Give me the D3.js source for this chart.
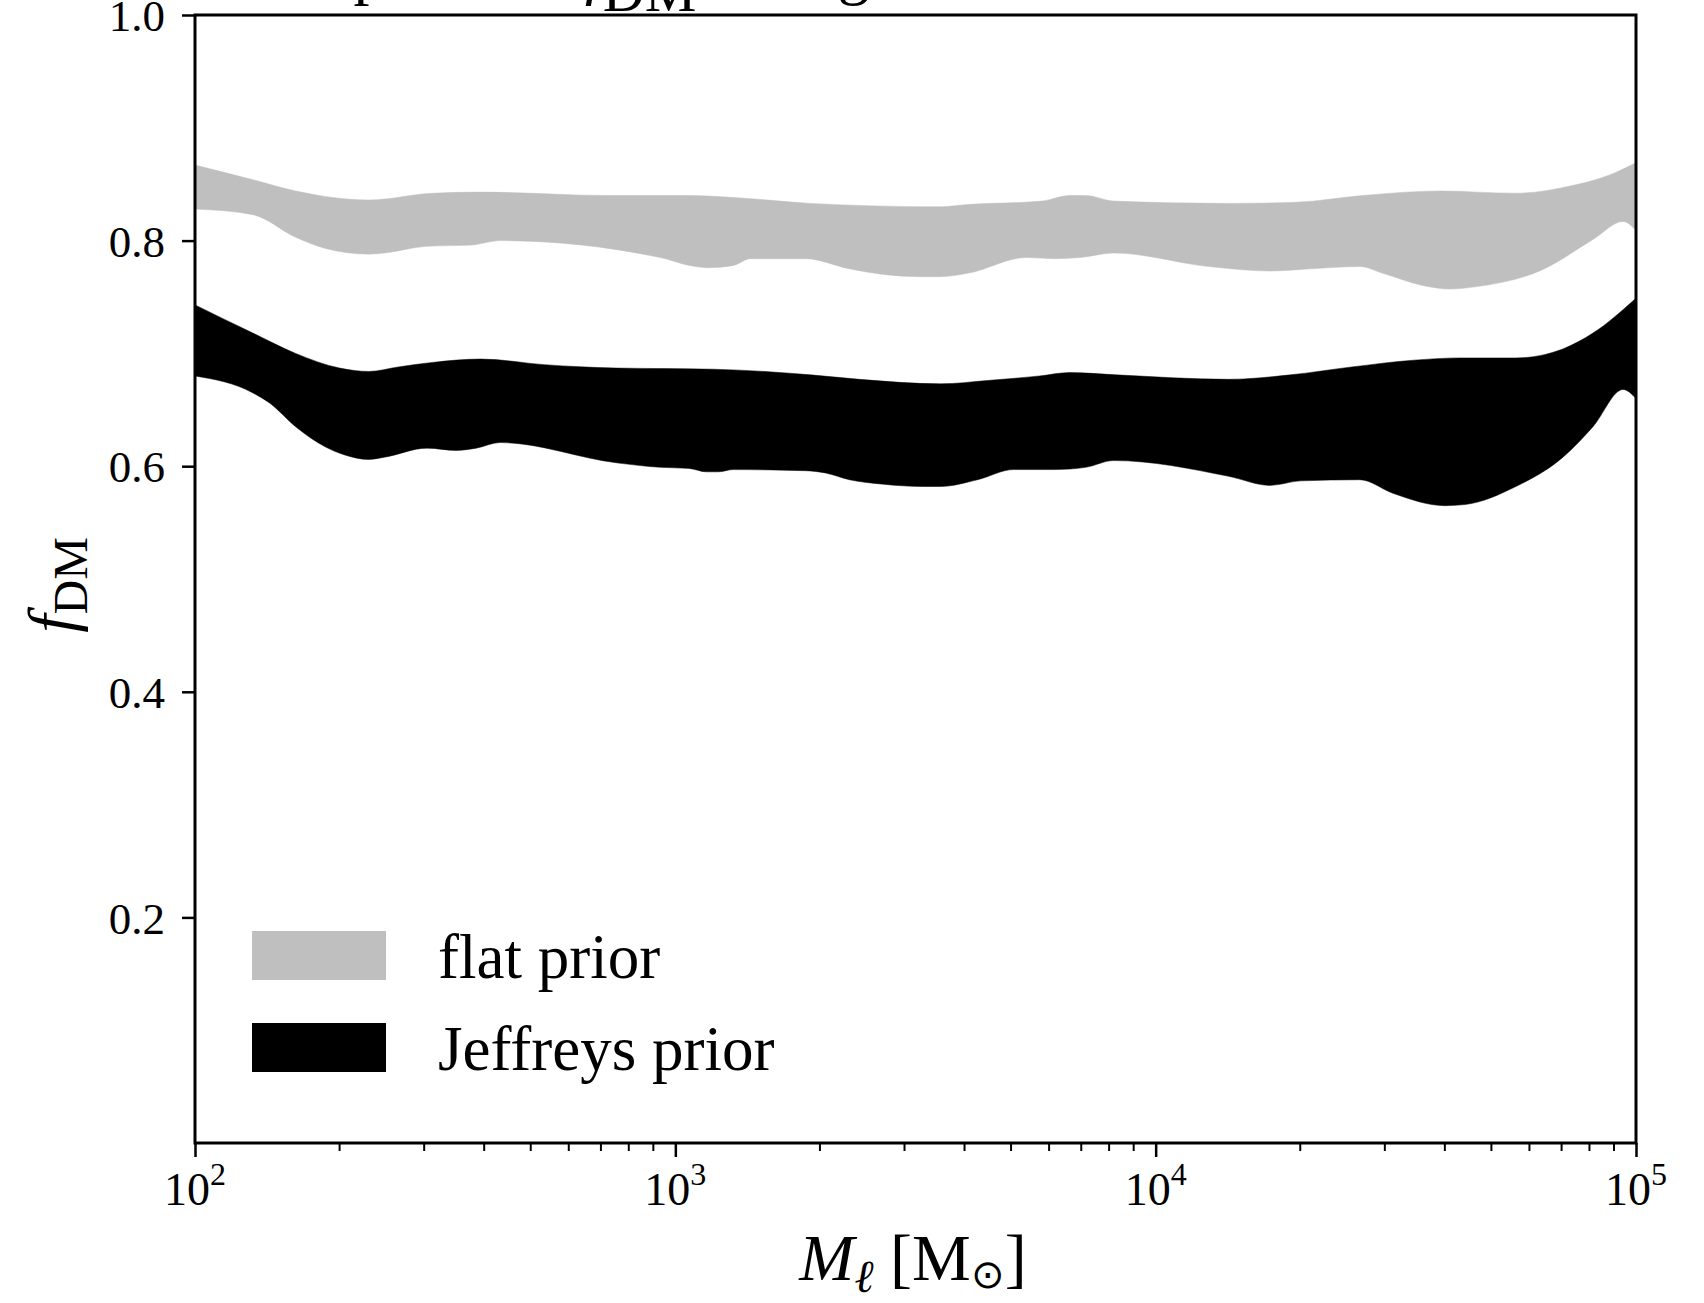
<!DOCTYPE html>
<html>
<head>
<meta charset="utf-8">
<script src="https://cdn.jsdelivr.net/npm/d3@7"></script>
<style>
  html, body { margin: 0; padding: 0; background: #fff; }
  svg { display: block; }
  text { font-family: "Liberation Serif", "Times New Roman", serif; fill: #000; }
</style>
</head>
<body>
<svg id="chart" width="1704" height="1303"></svg>
<script>
// ---- data ----
const flatUpperM = [100,132,162,230,312,394,722,1069,1346,1911,3565,4058,5786,6620,7149,8175,14196,19572,26990,39060,56234,72170,87850,100000];
const flatUpperF = [0.867,0.854,0.844,0.836,0.842,0.843,0.840,0.840,0.838,0.833,0.830,0.832,0.835,0.840,0.840,0.835,0.833,0.834,0.840,0.844,0.842,0.848,0.858,0.869];

const flatLowerM = [100,132,162,187,230,248,304,376,432,930,1069,1172,1321,1433,1866,2304,2713,3270,3565,4058,5385,6160,6980,8175,12894,17283,21032,26607,29720,36160,40980,46200,63710,81360,93950,100000];
const flatLowerF = [0.828,0.823,0.803,0.793,0.788,0.789,0.795,0.796,0.800,0.785,0.778,0.776,0.778,0.784,0.784,0.775,0.770,0.768,0.768,0.771,0.785,0.784,0.785,0.789,0.777,0.773,0.775,0.777,0.771,0.760,0.757,0.759,0.774,0.801,0.817,0.809];

const jeffUpperM = [100,132,162,200,230,265,312,394,534,754,1200,1911,2417,3565,4467,5731,6620,8254,14196,19107,25610,34470,42980,56234,70460,81360,100000];
const jeffUpperF = [0.743,0.718,0.700,0.687,0.684,0.688,0.692,0.695,0.690,0.687,0.686,0.681,0.677,0.673,0.676,0.680,0.683,0.681,0.677,0.681,0.688,0.694,0.696,0.696,0.704,0.718,0.749];

const jeffLowerM = [100,132,143,162,187,205,230,248,304,350,385,432,754,930,1069,1160,1229,1321,1866,2054,2304,2713,3270,3565,4257,5061,6160,7149,8175,14196,17283,20054,26607,31180,40000,44040,56234,70460,81360,93950,100000];
const jeffLowerF = [0.680,0.665,0.656,0.635,0.617,0.610,0.606,0.608,0.616,0.614,0.616,0.621,0.603,0.599,0.598,0.595,0.595,0.597,0.596,0.594,0.588,0.584,0.582,0.582,0.588,0.597,0.597,0.599,0.605,0.591,0.583,0.587,0.588,0.576,0.565,0.566,0.582,0.608,0.635,0.668,0.660];

const seriesNames = ["flat prior", "Jeffreys prior"];
const seriesColors = ["#bfbfbf", "#000000"];
const yTickValues = [0.2, 0.4, 0.6, 0.8, 1.0];
const xMajorTicks = [1e2, 1e3, 1e4, 1e5];
const xTickExps = ["2", "3", "4", "5"];

// ---- layout ----
const svg = d3.select("#chart");
const L = 195, R = 1636, T = 15, B = 1143;
const x = d3.scaleLog().domain([1e2, 1e5]).range([L, R]);
const y = d3.scaleLinear().domain([0, 1]).range([B, T]);

const zip = (m, f) => m.map((v, i) => [v, f[i]]);
const line = d3.line().x(d => x(d[0])).y(d => y(d[1])).curve(d3.curveMonotoneX);
function bandPath(upM, upF, loM, loF) {
  const up = line(zip(upM, upF));
  const lo = line(zip(loM, loF).reverse());
  return up + "L" + lo.slice(1) + "Z";
}

svg.append("defs").append("clipPath").attr("id", "plotclip")
  .append("rect").attr("x", L).attr("y", T).attr("width", R - L).attr("height", B - T);

const gBands = svg.append("g").attr("clip-path", "url(#plotclip)");
gBands.append("path").attr("d", bandPath(flatUpperM, flatUpperF, flatLowerM, flatLowerF))
  .attr("fill", seriesColors[0]).attr("stroke", seriesColors[0]).attr("stroke-width", 0.5);
gBands.append("path").attr("d", bandPath(jeffUpperM, jeffUpperF, jeffLowerM, jeffLowerF))
  .attr("fill", seriesColors[1]).attr("stroke", seriesColors[1]).attr("stroke-width", 0.5);

// ---- title (cut off at top in the reference) ----
const title = svg.append("text").attr("y", -8).attr("font-size", 64);
title.append("tspan").attr("x", -2).text("95% credible posterior ");
title.append("tspan").attr("x", 585).attr("font-style", "italic").text("f");
title.append("tspan").attr("font-size", 58).attr("dy", 19).text("DM");
title.append("tspan").attr("x", 740).attr("dy", -19).text(" range");

// ---- axes ----
const yAxis = d3.axisLeft(y).tickValues(yTickValues).tickFormat(d3.format(".1f")).tickSize(13).tickSizeOuter(0);
const gy = svg.append("g").attr("transform", `translate(${L},0)`).call(yAxis);
gy.select(".domain").remove();
gy.selectAll(".tick line").attr("stroke", "#000").attr("stroke-width", 2.5);
gy.selectAll(".tick text").attr("font-size", 45).attr("x", -30).attr("dy", "0.35em");

// x minor ticks
const minor = [];
for (let e = 2; e < 5; e++) for (let k = 2; k <= 9; k++) minor.push(k * Math.pow(10, e));
const gx = svg.append("g").attr("transform", `translate(0,${B})`);
gx.selectAll("line.minor").data(minor).enter().append("line")
  .attr("x1", d => x(d)).attr("x2", d => x(d)).attr("y1", 0).attr("y2", 8)
  .attr("stroke", "#000").attr("stroke-width", 2);
const xAxis = d3.axisBottom(x).tickValues(xMajorTicks).tickFormat("").tickSize(14).tickSizeOuter(0);
const gxa = gx.append("g").call(xAxis);
gxa.select(".domain").remove();
gxa.selectAll(".tick line").attr("stroke", "#000").attr("stroke-width", 2.5);
xMajorTicks.forEach((v, i) => {
  const t = gx.append("text").attr("x", x(v)).attr("y", 62).attr("text-anchor", "middle").attr("font-size", 46);
  t.append("tspan").text("10");
  t.append("tspan").attr("font-size", 32).attr("dy", -20).text(xTickExps[i]);
});

// frame
svg.append("rect").attr("x", L).attr("y", T).attr("width", R - L).attr("height", B - T)
  .attr("fill", "none").attr("stroke", "#000").attr("stroke-width", 3);

// ---- axis labels ----
const xl = svg.append("text").attr("x", 913).attr("y", 1280).attr("text-anchor", "middle").attr("font-size", 66);
xl.append("tspan").attr("font-style", "italic").text("M");
xl.append("tspan").attr("font-style", "italic").attr("font-size", 46).attr("dy", 12).text("ℓ");
xl.append("tspan").attr("dy", -12).text(" [M");
xl.append("tspan").attr("font-size", 40).attr("dy", 8).text("⊙");
xl.append("tspan").attr("dy", -8).text("]");

const yl = svg.append("text").attr("transform", "translate(74,585) rotate(-90)").attr("text-anchor", "middle").attr("font-size", 66);
yl.append("tspan").attr("font-style", "italic").text("f");
yl.append("tspan").attr("font-size", 48).attr("dy", 13).text("DM");

// ---- legend ----
const legY = [931, 1023];
const gl = svg.append("g");
seriesNames.forEach((name, i) => {
  gl.append("rect").attr("x", 252).attr("y", legY[i]).attr("width", 134).attr("height", 49).attr("fill", seriesColors[i]);
  gl.append("text").attr("x", 438).attr("y", legY[i] + 47).attr("font-size", 63).text(name);
});
</script>
</body>
</html>
